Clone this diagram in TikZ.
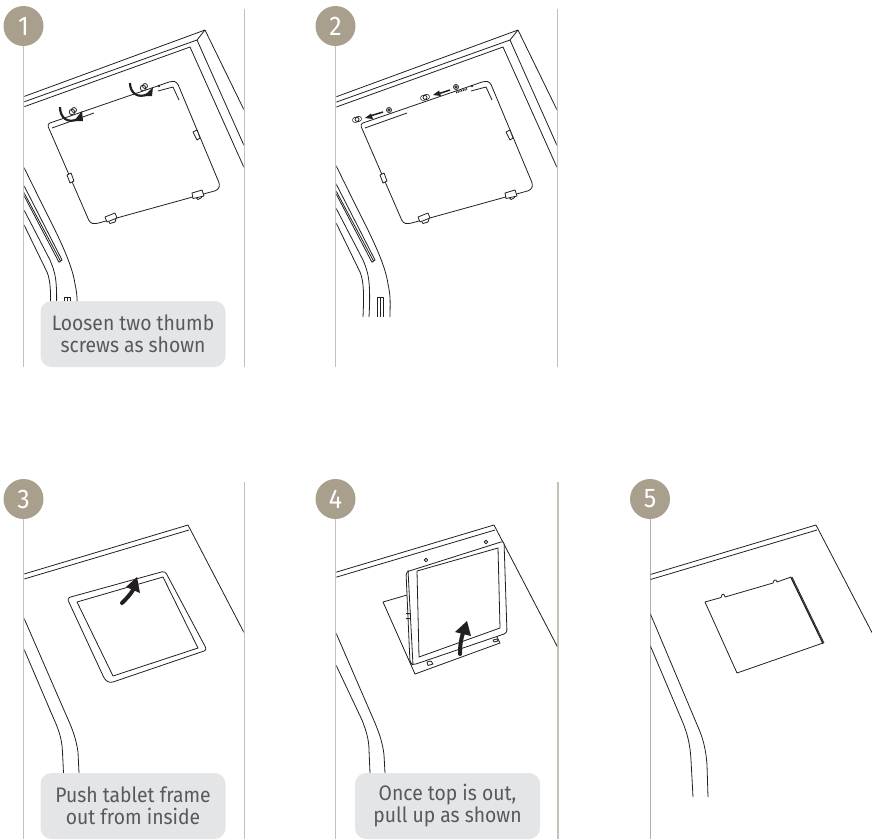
\documentclass[tikz,border=0pt]{standalone}
\usepackage{fontspec}
\setmainfont[FakeStretch=0.92]{Fira Sans}
\usepackage{tikz}
\definecolor{stepcol}{HTML}{A99F8D}
\definecolor{rulecol}{HTML}{C6C1B6}
\definecolor{rulefive}{HTML}{B5AC9B}
\definecolor{notecol}{HTML}{E4E5E7}
\definecolor{notetxt}{HTML}{58595B}
\definecolor{inkcol}{HTML}{231F20}
\tikzset{
  art/.style={draw=inkcol,line width=0.8pt,line join=round},
  rulel/.style={draw=rulecol,line width=1.7pt},
  stepnum/.style={circle,fill=stepcol,text=white,minimum size=40pt,inner sep=0pt,font=\fontsize{27}{27}\selectfont},
  notebox/.style={fill=notecol,rounded corners=11pt,minimum width=185pt,minimum height=66pt,inner sep=0pt,align=center,text=notetxt,font=\fontsize{21}{22}\selectfont,execute at begin node={\rule{0pt}{19pt}}},
  bigarrow/.style={draw=inkcol,line width=4pt,line cap=round},
  turnarc/.style={draw=inkcol,line width=2.2pt},
  headfill/.style={fill=inkcol,draw=none}
}
% frame and stand shared by steps 1 and 2
\newcommand{\standart}{
  \draw[art] (-10,109) -- (205,30) -- (246,114);
  \draw[art] (-10,114) -- (197,40) -- (205,30);
  \draw[art] (-10,119) -- (190,47) -- (246,172);
  \draw[art] (197,40) -- (246,150);
  \draw[art] (8,135) -- (40,200) .. controls (55,230) and (72,262) .. (75,284) .. controls (78,297) and (77,305) .. (77,317);
  \draw[art] (10,183) -- (50,260) .. controls (55,272) and (58,280) .. (56,317);
  \draw[art] (10,196) -- (47,272) .. controls (51,282) and (51,295) .. (50,317);
  \draw[art] (16,170) -- (62,260) -- (59,262.3) -- (8,165);
  \draw[art] (13,172) -- (60.5,261);
  \draw[art] (64.5,317) -- (64.5,297) -- (70,297) -- (70,317);
  \draw[art] (67,297) -- (67,317);
  % the plate
  \draw[art,rounded corners=3pt] (47,124) -- (172,81) -- (177,82) -- (220,185) -- (218,190) -- (95,224) -- (90,223) -- cycle;
  \draw[art] (52,128) -- (94,113);
  \draw[art] (158,91) -- (173,87) -- (179,100);
  \draw[art] (159,86) circle (0.8pt);
  \draw[art,fill=white] (67,175) -- (71,173) -- (74,181) -- (70,183) -- cycle;
  \draw[art,fill=white] (193,132) -- (197,130) -- (200,138) -- (197,140) -- cycle;
  \draw[art] (109,222) -- (110,223.5) -- (115,222) -- (116,219);
  \draw[art,fill=white] (105,217) -- (115,213) -- (117,218) -- (107,222) -- cycle;
  \draw[art] (196.5,198) -- (198,199.5) -- (201,198) -- (202,196.5);
  \draw[art,fill=white] (192,193) -- (202,190) -- (204,196) -- (193,198.5) -- cycle;
}
% top edge shared by steps 3 to 5
\newcommand{\bareart}{
  \draw[art] (-10,577) -- (164,525) -- (240,671);
  \draw[art] (-10,582) -- (165,530);
}
% slot of a moved screw
\newcommand{\slotmark}[2]{
  \draw[inkcol,line width=5.6pt,line cap=round] (#1,#2) -- ++(4,-1.2);
  \draw[white,line width=4pt,line cap=round] (#1,#2) -- ++(4,-1.2);
  \draw[art] (#1+2,#2-0.6) circle (2pt);
}
\begin{document}
\begin{tikzpicture}[x=1pt,y=-1pt]
  \useasboundingbox (0,0) rectangle (872,839);
  % step 1
  \draw[rulel] (23.5,30) -- (23.5,367);
  \draw[rulel] (244.5,9) -- (244.5,367);
  \begin{scope}
    \clip (24.4,0) rectangle (243.6,367);
    \standart
    % thumb screws
    \draw[art,fill=white] (72,112) circle (2.8pt);
    \draw[art] (74,110) circle (2.5pt);
    \draw[art,fill=white] (143,88) circle (2.8pt);
    \draw[art] (145,86) circle (2.5pt);
    \draw[turnarc] (60,107) .. controls (60,118) and (68,124) .. (78,119);
    \fill[headfill] (82,111) -- (83,121) -- (74,121) -- cycle;
    \draw[turnarc] (130,83) .. controls (130,93) and (138,99) .. (148,94);
    \fill[headfill] (153,87) -- (152,96) -- (144,96) -- cycle;
  \end{scope}
  \node[notebox] (note1) at (133,334) {Loosen two thumb\\screws as shown};
  \node[stepnum] (step1) at (23.5,26) {1};
  % step 2
  \draw[rulel] (335.5,30) -- (335.5,367);
  \draw[rulel] (557.5,9) -- (557.5,367);
  \begin{scope}
    \clip (336.4,0) rectangle (556.6,367);
    \begin{scope}[shift={(313,0)}]
      \standart
    \end{scope}
    \draw[art,fill=white] (389,110) circle (2.5pt);
    \draw[art] (389,110) circle (1.2pt);
    \draw[art,fill=white] (456,87) circle (2.5pt);
    \draw[art] (456,87) circle (1.2pt);
    \draw[inkcol,line width=1.8pt,dash pattern=on 1pt off 0.8pt] (456,92.5) -- (467,89);
    \slotmark{355}{120}
    \slotmark{423}{98}
    \draw[inkcol,line width=1.5pt] (383,112) -- (370,116);
    \fill[headfill] (365,118) -- (371,113.5) -- (373,119) -- cycle;
    \draw[inkcol,line width=1.5pt] (450,90) -- (438,94);
    \fill[headfill] (433,95) -- (439,90.5) -- (441,96) -- cycle;
  \end{scope}
  \node[stepnum] (step2) at (335.5,26) {2};
  % step 3
  \draw[rulel] (23.5,510) -- (23.5,839);
  \draw[rulel] (244.5,482) -- (244.5,839);
  \begin{scope}
    \clip (24.4,470) rectangle (243.6,839);
    \begin{scope}[shift={(24,0)}]
      \bareart
    \end{scope}
    \draw[art] (23.5,617) -- (67,717) .. controls (72,728) and (76,738) .. (78,752) -- (79,773);
    \draw[art] (23.5,648) -- (53,717) .. controls (58,728) and (62,738) .. (62.5,752) -- (63.5,773);
    \draw[art,rounded corners=3pt] (67,598) -- (165,571) -- (207,650) -- (110,683) -- (105,680) -- cycle;
    \draw[art] (77,602) -- (163,577) -- (198,648) -- (113,676) -- cycle;
    \draw[bigarrow] (122,603) .. controls (126,599) and (130,595) .. (133,590);
    \fill[headfill] (137,577) -- (140,593) -- (126,587) -- cycle;
  \end{scope}
  \node[notebox] (note3) at (133,806) {Push tablet frame\\out from inside};
  \node[stepnum] (step3) at (23.5,499) {3};
  % step 4
  \draw[rulel] (335.5,510) -- (335.5,839);
  \draw[rulel] (558,482) -- (558,839);
  \begin{scope}
    \clip (336.4,470) rectangle (557.1,839);
    \begin{scope}[shift={(330,0)}]
      \bareart
    \end{scope}
    \draw[art] (336,633) -- (375,723) .. controls (380,735) and (383,745) .. (384,755) -- (385,773);
    \draw[art] (336,665) -- (362,720) .. controls (366,730) and (369,740) .. (369,750) -- (370,773);
    \draw[art] (407,595) -- (383,602) -- (415,674) -- (500,643) -- (497,637);
    % the tablet
    \draw[art] (426,560) circle (1.8pt);
    \draw[art] (486,542) circle (1.8pt);
    \draw[art,fill=white,rounded corners=3pt] (406,572) -- (504,541) -- (507,633) -- (413,665) -- (410,663) -- cycle;
    \draw[art] (408,570) -- (413,665);
    \draw[art] (417,571) -- (498,548) -- (500,628) -- (419,657) -- cycle;
    \draw[art] (406,613) -- (410,613) -- (410,618) -- (406,618);
    \draw[art] (427,662) -- (431,661) -- (433,664) -- (428,665.5) -- cycle;
    \draw[art] (493,640) -- (497,639) -- (498,641) -- (494,642) -- cycle;
    \draw[bigarrow] (460,654) .. controls (460,645) and (461,639) .. (463,633);
    \fill[headfill] (467,621) -- (471,636) -- (455,632) -- cycle;
  \end{scope}
  \node[notebox] (note4) at (447.5,806) {Once top is out,\\pull up as shown};
  \node[stepnum] (step4) at (335.5,499) {4};
  % step 5
  \draw[rulefive,line width=1pt] (650,510) -- (650,839);
  \draw[rulecol,line width=0.5pt] (871.8,482) -- (871.8,839);
  \begin{scope}
    \clip (650.7,470) rectangle (872,839);
    \begin{scope}[shift={(652,0)}]
      \bareart
    \end{scope}
    \draw[art] (650,613) -- (698,727) .. controls (703,738) and (706,750) .. (707,765) -- (708,797);
    \draw[art] (650,645) -- (683,723) .. controls (687,733) and (690,743) .. (691,760) -- (693,797);
    \draw[art] (705,602) -- (721,597.5) .. controls (722,593) and (724,593) .. (725,597) -- (773,583) .. controls (774,579) and (776,579) .. (777,582) -- (791,577) -- (823,643) -- (737,673) -- cycle;
    \draw[art] (792,577) -- (824,643);
    \draw[art] (791,578) -- (823,644);
  \end{scope}
  \node[stepnum] (step5) at (650,499) {5};
\end{tikzpicture}
\end{document}
